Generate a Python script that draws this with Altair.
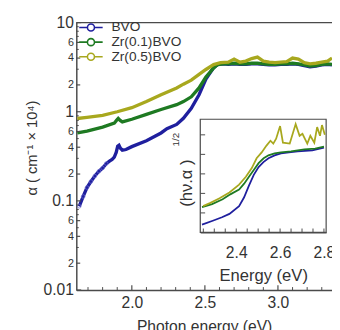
import altair as alt
import pandas as pd

series = ["BVO", "Zr(0.1)BVO", "Zr(0.5)BVO"]
colors = ["#1f1f9e", "#1e7a22", "#a8a81e"]

# ---- main plot data (photon energy eV, alpha x1e4 cm^-1) ----
bvo_e = [1.64, 1.667, 1.693, 1.72, 1.747, 1.775, 1.80, 1.825, 1.847, 1.865, 1.88, 1.893, 1.903, 1.912, 1.922,
         1.935, 1.96, 2.0, 2.1, 2.2, 2.24, 2.307, 2.353, 2.407, 2.46, 2.507, 2.56, 2.587, 2.627]
bvo_a = [0.087, 0.112, 0.141, 0.165, 0.19, 0.215, 0.234, 0.262, 0.279, 0.292, 0.31, 0.35, 0.41, 0.42, 0.39,
         0.37, 0.377, 0.406, 0.473, 0.578, 0.645, 0.72, 0.845, 1.09, 1.55, 2.32, 3.13, 3.38, 3.45]
zr1_e = [1.627, 1.693, 1.80, 1.88, 1.895, 1.907, 1.92, 1.935, 2.0, 2.1, 2.2, 2.307, 2.353, 2.407, 2.46, 2.507,
         2.56, 2.587, 2.627]
zr1_a = [0.578, 0.608, 0.673, 0.744, 0.8, 0.84, 0.8, 0.77, 0.824, 0.934, 1.06, 1.2, 1.30, 1.47, 1.85, 2.45,
         3.1, 3.38, 3.45]
zr5_e = [1.627, 1.693, 1.80, 1.90, 2.0, 2.1, 2.2, 2.307, 2.353, 2.407, 2.46, 2.507, 2.56, 2.607]
zr5_a = [0.84, 0.865, 0.91, 1.0, 1.11, 1.30, 1.55, 1.85, 2.04, 2.26, 2.63, 2.98, 3.38, 3.55]

plateau_e = [2.66, 2.70, 2.74, 2.78, 2.82, 2.86, 2.90, 2.94, 2.98, 3.02, 3.06, 3.10, 3.14, 3.18,
             3.22, 3.26, 3.30, 3.34, 3.37]
bvo_plateau = [3.4, 3.45, 3.4, 3.4, 3.45, 3.45, 3.4, 3.35, 3.35, 3.4, 3.4, 3.45, 3.4, 3.3, 3.2, 3.25, 3.35, 3.4, 3.35]
zr1_plateau = [3.45, 3.5, 3.45, 3.45, 3.5, 3.5, 3.45, 3.4, 3.4, 3.45, 3.45, 3.5, 3.45, 3.35, 3.25, 3.3, 3.4, 3.45, 3.4]
zr5_plateau = [3.6, 3.9, 3.6, 3.7, 3.95, 4.1, 3.7, 3.6, 3.55, 3.6, 3.65, 4.0, 3.9, 3.55, 3.45, 3.5, 3.6, 3.7, 4.0]

# ---- inset data (energy eV, (h nu alpha)^1/2 arb.) ----
in_bvo_e = [2.244, 2.293, 2.335, 2.369, 2.413, 2.436, 2.458, 2.48, 2.502, 2.524, 2.547, 2.575, 2.604,
            2.64, 2.68, 2.747, 2.80]
in_bvo_y = [0.4, 0.6, 0.78, 0.95, 1.35, 1.8, 2.4, 2.95, 3.35, 3.6, 3.8, 3.95, 4.05, 4.1, 4.15, 4.2, 4.35]
in_zr1_e = [2.244, 2.29, 2.338, 2.373, 2.413, 2.436, 2.458, 2.48, 2.502, 2.525, 2.547, 2.575, 2.604,
            2.65, 2.711, 2.76, 2.80]
in_zr1_y = [1.3, 1.45, 1.7, 1.95, 2.2, 2.5, 2.85, 3.2, 3.55, 3.8, 3.95, 4.05, 4.1, 4.15, 4.25, 4.3, 4.4]
in_zr5_e = [2.249, 2.28, 2.324, 2.369, 2.413, 2.444, 2.471, 2.493, 2.516, 2.538, 2.556, 2.569, 2.582, 2.60,
            2.613, 2.644, 2.671, 2.689, 2.702, 2.724, 2.738, 2.756, 2.769, 2.782, 2.791, 2.804]
in_zr5_y = [1.35, 1.5, 1.75, 2.05, 2.45, 2.85, 3.3, 3.8, 4.1, 4.45, 4.7, 4.55, 4.8, 5.45,
            4.6, 4.55, 5.55, 4.95, 5.05, 4.55, 4.95, 4.6, 5.4, 4.95, 5.5, 5.0]

# ---- tick values ----
y_major = [0.01, 0.1, 1, 10]
y_minor_lab = [0.02, 0.04, 0.06, 0.2, 0.4, 0.6, 2, 4, 6]
y_minor = [0.03, 0.05, 0.07, 0.08, 0.09, 0.3, 0.5, 0.7, 0.8, 0.9, 3, 5, 7, 8, 9]
x_major = [2.0, 2.5, 3.0]
x_minor = [1.7, 1.8, 1.9, 2.1, 2.2, 2.3, 2.4, 2.6, 2.7, 2.8, 2.9, 3.1, 3.2, 3.3]
in_x_ticks = [2.25, 2.3, 2.35, 2.4, 2.45, 2.5, 2.55, 2.6, 2.65, 2.7, 2.75, 2.8]
in_x_labels = [2.4, 2.6, 2.8]
in_y_ticks = [1, 2, 3, 4, 5]

FONT = "Liberation Sans"
AX = "#4a4a4a"
W, H = 262, 274

rows = []
for s, ee, aa, pa in [(series[0], bvo_e, bvo_a, bvo_plateau),
                      (series[1], zr1_e, zr1_a, zr1_plateau),
                      (series[2], zr5_e, zr5_a, zr5_plateau)]:
    for e, a in zip(ee + plateau_e, aa + pa):
        rows.append({"e": e, "a": a, "s": s})
df_main = pd.DataFrame(rows)
df_blue_pts = pd.DataFrame({"e": bvo_e[:8], "a": bvo_a[:8]})

rows = []
for s, ee, yy in [(series[0], in_bvo_e, in_bvo_y), (series[1], in_zr1_e, in_zr1_y), (series[2], in_zr5_e, in_zr5_y)]:
    for e, y in zip(ee, yy):
        rows.append({"e": e, "y": y, "s": s})
df_in = pd.DataFrame(rows)

lead = "round(datum.value / pow(10, floor(log(datum.value) / LN10 + 1e-6)))"
y_axis = alt.Axis(values=y_major + y_minor_lab, ticks=False, grid=False, domainColor=AX, domainWidth=1.5,
                  labelExpr=f"{lead} == 1 ? format(datum.value, '~g') : format({lead}, 'd')",
                  labelFontSize=alt.condition(f"{lead} == 1", alt.value(16), alt.value(11)),
                  labelPadding=3, labelColor="#333",
                  title="α ( cm⁻¹ × 10⁴)", titleFontSize=15, titleFontWeight="normal",
                  titleX=-41, titleY=128, titleAngle=270, titleBaseline="alphabetic", titleColor="#333")
x_axis = alt.Axis(values=x_major, format=".1f", ticks=False, grid=False, domainColor=AX, domainWidth=1.5,
                  labelFontSize=16, labelPadding=5, labelColor="#333",
                  title="Photon energy (eV)", titleFontSize=16, titleFontWeight="normal",
                  titlePadding=9, titleColor="#333")

x_main = alt.X("e:Q", scale=alt.Scale(domain=[1.62, 3.37], nice=False, zero=False), axis=x_axis)
y_main = alt.Y("a:Q", scale=alt.Scale(type="log", domain=[0.01, 10], nice=False), axis=y_axis)

sym = "M-2,0L-0.6,0M0.6,0L2,0M-0.6,0A0.6,0.6 0 1,0 0.6,0A0.6,0.6 0 1,0 -0.6,0Z"
color = alt.Color("s:N", scale=alt.Scale(domain=series, range=colors),
                  legend=alt.Legend(orient="none", legendX=8, legendY=-2, title=None,
                                    symbolType=sym, symbolSize=144, symbolStrokeWidth=1.6,
                                    symbolFillColor="white", labelFontSize=14, labelFont=FONT,
                                    labelColor="#333", labelOffset=14, rowPadding=1, padding=0))

main_lines = alt.Chart(df_main).mark_line(strokeWidth=3.4).encode(x=x_main, y=y_main, color=color)
blue_pts = alt.Chart(df_blue_pts).mark_point(shape="circle", size=14, filled=False, strokeWidth=0.8,
                                             color="#6a6ad0", opacity=0.9).encode(x=x_main, y=y_main)

ytick_df = lambda vals: pd.DataFrame({"a": vals})
xtick_df = lambda vals: pd.DataFrame({"e": vals})
yt1 = alt.Chart(ytick_df(y_major)).mark_rule(color=AX, strokeWidth=1.2).encode(
    y=y_main, x=alt.value(0), x2=alt.value(5))
yt2 = alt.Chart(ytick_df(y_minor_lab)).mark_rule(color=AX, strokeWidth=1.2).encode(
    y=y_main, x=alt.value(0), x2=alt.value(4))
yt3 = alt.Chart(ytick_df(y_minor)).mark_rule(color=AX, strokeWidth=1).encode(
    y=y_main, x=alt.value(0), x2=alt.value(2.5))
xt1 = alt.Chart(xtick_df(x_major)).mark_rule(color=AX, strokeWidth=1.2).encode(
    x=x_main, y=alt.value(H), y2=alt.value(H - 5))
xt2 = alt.Chart(xtick_df(x_minor)).mark_rule(color=AX, strokeWidth=1).encode(
    x=x_main, y=alt.value(H), y2=alt.value(H - 3))
top = alt.Chart(pd.DataFrame({"k": [0]})).mark_rule(color=AX, strokeWidth=1.5).encode(
    x=alt.value(0), x2=alt.value(W), y=alt.value(0))

main = alt.layer(main_lines, blue_pts, yt1, yt2, yt3, xt1, xt2, top)

# ---- inset ----
IX0, IX1, IY0, IY1 = 127, 256, 215, 99
in_xaxis = alt.Axis(values=in_x_labels, format=".1f", ticks=False, grid=False, orient="bottom", offset=-(H - IY0),
                    domainColor=AX, domainWidth=1.2, labelFontSize=16, labelPadding=13, labelColor="#333",
                    title="Energy (eV)", titleFontSize=17, titleFontWeight="normal", titlePadding=7,
                    titleColor="#333")
in_yaxis = alt.Axis(values=in_y_ticks, labels=False, ticks=False, grid=False, orient="left", offset=-IX0,
                    domainColor=AX, domainWidth=1.2, title="(hν.α )", titleFontSize=17,
                    titleFontWeight="normal", titleX=-9, titleY=164, titleAngle=270,
                    titleBaseline="alphabetic", titleColor="#333")
x_in = alt.X("e:Q", scale=alt.Scale(domain=[2.236, 2.81], range=[IX0, IX1], nice=False, zero=False), axis=in_xaxis)
y_in = alt.Y("y:Q", scale=alt.Scale(domain=[0, 5.8], range=[IY0, IY1], nice=False, zero=False), axis=in_yaxis)

box = alt.Chart(pd.DataFrame({"e": [2.236], "e2": [2.81], "y": [0], "y2": [5.8]})).mark_rect(
    fill="white", stroke=AX, strokeWidth=1.2).encode(x=x_in, x2="e2:Q", y=y_in, y2="y2:Q")
in_lines = alt.Chart(df_in).mark_line(strokeWidth=1.8).encode(x=x_in, y=y_in, color=color)
ixt = alt.Chart(pd.DataFrame({"e": in_x_ticks})).mark_rule(color=AX, strokeWidth=1).encode(
    x=x_in, y=alt.value(IY0), y2=alt.value(IY0 - 4))
iyt = alt.Chart(pd.DataFrame({"y": in_y_ticks})).mark_rule(color=AX, strokeWidth=1).encode(
    y=y_in, x=alt.value(IX0), x2=alt.value(IX0 + 5))
sup = alt.Chart(pd.DataFrame({"e": [2.124], "y": [4.75], "t": ["1/2"]})).mark_text(
    angle=270, fontSize=10, font=FONT, color="#333").encode(x=x_in, y=y_in, text="t:N")

inset = alt.layer(box, in_lines, ixt, iyt, sup)

chart = alt.layer(main, inset).resolve_scale(x="independent", y="independent").properties(
    width=W, height=H,
    autosize=alt.AutoSizeParams(type="none"),
    padding={"left": 70, "top": 11, "right": 0, "bottom": 37},
).configure_view(stroke=None).configure_axis(labelFont=FONT, titleFont=FONT)

chart.save("out.html", embed_options={"renderer": "svg", "actions": False})
